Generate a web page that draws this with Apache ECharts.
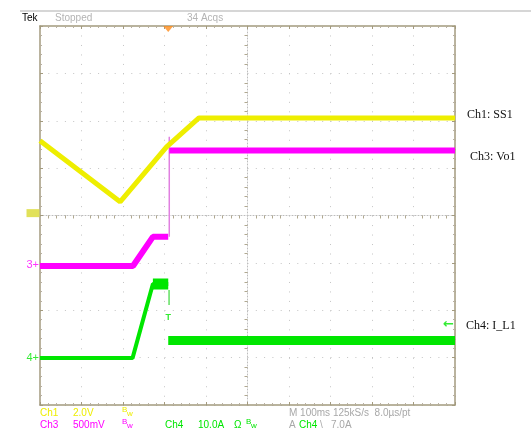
<!DOCTYPE html>
<html lang="en">
<head>
<meta charset="UTF-8">
<title>Tek scope capture</title>
<style>
    * { margin: 0; padding: 0; box-sizing: border-box; }
    body { background: #fff; }
    #chart { width: 531px; height: 436px; }
</style>
</head>
<body>
<div id="chart"></div>
<script src="https://cdn.jsdelivr.net/npm/echarts@6.0.0/dist/echarts.min.js"></script>
<script>
    // screen is measured in divisions: x -5..5, y -4..4 (center = 0,0)
    const ch1Trace = [[-5, 1.58], [-3.07, 0.29], [-1.95, 1.45], [-1.17, 2.06], [5, 2.06]]
    const ch3Before = [[-5, -1.065], [-2.76, -1.065], [-2.28, -0.45], [-1.91, -0.45]]
    const ch3Edge = [[-1.885, -0.45], [-1.885, 1.66]]
    const ch3After = [[-1.885, 1.37], [5, 1.37]]
    const ch4Before = [[-5, -3.01], [-2.77, -3.01], [-2.28, -1.445], [-1.91, -1.445]]
    const ch4Peak = [[-2.28, -1.445], [-1.91, -1.445]]
    const ch4Edge = [[-1.89, -1.57], [-1.89, -1.89]]
    const ch4After = [[-1.91, -2.64], [5, -2.64]]

    const triggerX = -1.91
    const triggerLevel = -2.3   // 7.0A on Ch4
    const groundLevels = [0.05, -1.05, -3.0]  // Ch1, Ch3, Ch4 markers

    const YEL = '#eeee00'
    const MAG = '#ff00ff'
    const GRN = '#00e600'
    const FRAME = '#a39a7e'
    const DOT = '#c4c4c4'
    const GRAY = '#a8a8a8'
    const NARROW = '"Liberation Sans Narrow", "Liberation Sans", sans-serif'

    const frameAxis = (pos) => ({
        type: 'value', min: -5, max: 5, interval: 1, position: pos,
        axisLine: { show: true, onZero: false, lineStyle: { color: FRAME, width: 1.5 } },
        axisTick: { show: true, inside: true, length: 3, lineStyle: { color: FRAME } },
        minorTick: { show: true, splitNumber: 5, length: 2, lineStyle: { color: '#b8b0a0' } },
        axisLabel: { show: false },
        splitLine: { show: false }
    })
    const xAxes = [frameAxis('bottom'), frameAxis('top'), frameAxis('bottom')]
    xAxes[0].splitLine = { show: true, lineStyle: { color: DOT, type: [1, 8.48], width: 1 } }
    xAxes[2].axisLine = { show: true, onZero: true, lineStyle: { color: '#bdbdbd', type: [1, 2], width: 1 } }
    xAxes[2].axisTick = { show: false }
    xAxes[2].minorTick = { show: true, splitNumber: 5, length: 3, lineStyle: { color: '#b0a890' } }

    const yFrame = (pos) => Object.assign(frameAxis(pos), { min: -4, max: 4 })
    const yAxes = [yFrame('left'), yFrame('right'), yFrame('left')]
    yAxes[0].splitLine = { show: true, lineStyle: { color: DOT, type: [1, 7.3], width: 1 } }
    yAxes[2].axisLine = { show: true, onZero: true, lineStyle: { color: '#bdbdbd', type: [1, 2], width: 1 } }
    yAxes[2].axisTick = { show: false }
    yAxes[2].minorTick = { show: true, splitNumber: 5, length: 3, lineStyle: { color: '#b0a890' } }

    const trace = (data, color, width) => ({
        type: 'line', data: data, symbol: 'none', silent: true,
        lineStyle: { color: color, width: width }, z: 3
    })

    const txt = (x, y, text, fill, font) => ({
        type: 'text', x: x, y: y,
        style: { text: text, fill: fill, font: font || ('10px ' + NARROW), verticalAlign: 'middle' }
    })

    const chart = echarts.init(document.getElementById('chart'))
    chart.setOption({
        animation: false,
        backgroundColor: '#fff',
        grid: { left: 40, top: 26, width: 415, height: 379, containLabel: false, outerBoundsMode: 'none' },
        xAxis: xAxes,
        yAxis: yAxes,
        series: [
            trace(ch4Before, GRN, 4),
            trace(ch4Peak, GRN, 11),
            trace(ch4Edge, '#60e060', 1.5),
            trace(ch4After, GRN, 9),
            trace(ch3Before, MAG, 6),
            trace(ch3Edge, '#e080e0', 1.5),
            trace(ch3After, MAG, 6),
            trace(ch1Trace, YEL, 5),
            {
                type: 'scatter', clip: false, silent: true, z: 5,
                data: [
                    { value: [-5, groundLevels[0]], symbol: 'rect', symbolSize: [13, 8], symbolOffset: [-7, 0],
                      itemStyle: { color: '#dada30' },
                      label: { show: true, position: 'left', distance: 3, formatter: '1', color: '#fff', fontSize: 8 } },
                    { value: [-5, groundLevels[1]], symbolSize: 0,
                      label: { show: true, position: 'left', distance: 1, formatter: '3+', color: MAG, fontSize: 11, fontFamily: NARROW } },
                    { value: [-5, groundLevels[2]], symbolSize: 0,
                      label: { show: true, position: 'left', distance: 1, formatter: '4+', color: GRN, fontSize: 11, fontFamily: NARROW } },
                    { value: [triggerX, 4], symbol: 'triangle', symbolRotate: 180, symbolSize: [10, 6], symbolOffset: [0, 3],
                      itemStyle: { color: '#ff8c1a' } },
                    { value: [5, triggerLevel], symbolSize: 0,
                      label: { show: true, position: 'left', distance: 1, formatter: '←', color: GRN, fontSize: 13, fontWeight: 'bold', fontFamily: 'DejaVu Sans' } },
                    { value: [triggerX, -2.15], symbolSize: 0,
                      label: { show: true, position: 'inside', formatter: 'T', color: GRN, fontSize: 9, fontWeight: 'bold' } }
                ]
            }
        ],
        graphic: [
            { type: 'line', shape: { x1: 20, y1: 11, x2: 531, y2: 11 }, style: { stroke: '#d6d6d6', lineWidth: 2 } },
            txt(22, 18, 'Tek', '#000'),
            txt(55, 18, 'Stopped', '#b4b4b4'),
            txt(187, 18, '34 Acqs', '#b4b4b4'),

            txt(40, 413, 'Ch1', YEL),
            txt(73, 413, '2.0V', YEL),
            txt(122, 410, 'B', YEL, '8px ' + NARROW),
            txt(127, 414, 'w', YEL, '8px ' + NARROW),
            txt(40, 425, 'Ch3', MAG),
            txt(73, 425, '500mV', MAG),
            txt(122, 422, 'B', MAG, '8px ' + NARROW),
            txt(127, 426, 'w', MAG, '8px ' + NARROW),
            txt(165, 425, 'Ch4', GRN),
            txt(198, 425, '10.0A', GRN),
            txt(234, 425, 'Ω', GRN),
            txt(246, 422, 'B', GRN, '8px ' + NARROW),
            txt(251, 426, 'w', GRN, '8px ' + NARROW),
            txt(289, 413, 'M 100ms 125kS/s  8.0µs/pt', GRAY),
            txt(289, 425, 'A', GRAY),
            txt(299, 425, 'Ch4', GRN),
            txt(320, 425, '\\', GRAY),
            txt(331, 425, '7.0A', GRAY),

            txt(467, 115, 'Ch1: SS1', '#111', '12px "Liberation Serif", serif'),
            txt(470, 157, 'Ch3: Vo1', '#111', '12px "Liberation Serif", serif'),
            txt(466, 326, 'Ch4: I_L1', '#111', '12px "Liberation Serif", serif')
        ]
    })
</script>
</body>
</html>
